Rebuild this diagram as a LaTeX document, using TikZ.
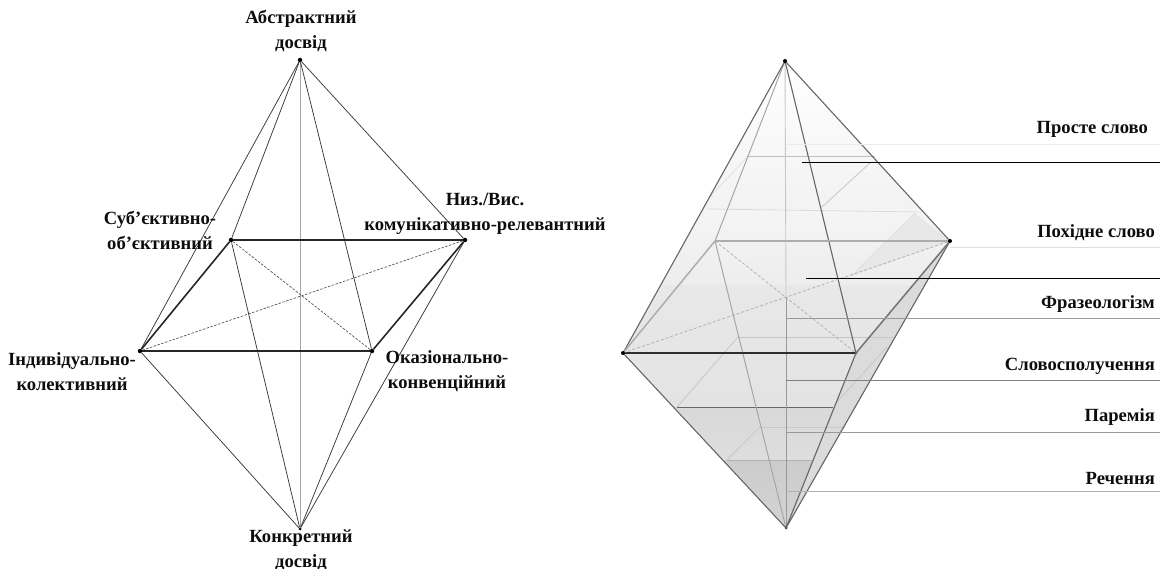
\documentclass[tikz,border=0pt]{standalone}
\usepackage{fontspec}
\setmainfont{Liberation Serif}
\tikzset{
  x=1pt,y=-1pt,
  lab/.style={font=\bfseries\fontsize{18.6}{25}\selectfont,align=center,text=black!95,inner sep=0pt},
  rlab/.style={lab,anchor=east},
  thin edge/.style={draw=black!78,line width=0.75pt},
  thick edge/.style={draw=black!85,line width=1.6pt},
  axis edge/.style={draw=black!35,line width=0.9pt},
  dash edge/.style={draw=black!75,line width=0.6pt,dash pattern=on 2.5pt off 1.5pt},
  vertex/.style={circle,fill=black,inner sep=0pt,minimum size=4.5pt},
  rdark/.style={draw=black!60,line width=1.1pt},
  rmid/.style={draw=black!35,line width=1pt},
  rbase/.style={draw=black!32,line width=1.5pt},
  rdash/.style={draw=black!30,line width=0.8pt,dash pattern=on 3pt off 2pt},
  section/.style={draw=black!22,line width=0.8pt},
  leader/.style={draw=black!40,line width=0.9pt},
  blackleader/.style={draw=black,line width=0.9pt},
}
\begin{document}
\begin{tikzpicture}
\useasboundingbox (0,0) rectangle (1174,569);
% ---------- left octahedron ----------
\node[vertex] (LT) at (300,60) {};
\node[vertex,minimum size=3pt] (LB) at (300,529) {};
\node[vertex] (LL) at (140,351) {};
\node[vertex] (LF) at (372,351) {};
\node[vertex] (LK) at (231,240) {};
\node[vertex] (LR) at (465,240) {};
\coordinate (LC) at (301,296);
\draw[axis edge] (LT) -- (LB);
\foreach \v in {LL,LK,LF,LR}{
  \draw[thin edge] (LT) -- (\v);
  \draw[thin edge] (LB) -- (\v);
}
\draw[thick edge] (LL) -- (LK);
\draw[thick edge] (LK) -- (LR);
\draw[thick edge] (LR) -- (LF);
\draw[thick edge] (LF) -- (LL);
\draw[dash edge] (LL) -- (LR);
\draw[dash edge] (LK) -- (LF);
% ---------- left labels ----------
\node[lab] (a1) at (301,31) {Абстрактний\\досвід};
\node[lab] (a2) at (160,230) {Суб’єктивно-\\об’єктивний};
\node[lab] (a3) at (485,214) {Низ./Вис.\\комунікативно-релевантний};
\node[lab] (a4) at (72,372) {Індивідуально-\\колективний};
\node[lab] (a5) at (447,371) {Оказіонально-\\конвенційний};
\node[lab] (a6) at (301,550) {Конкретний\\досвід};
% ---------- right octahedron ----------
\coordinate (RT) at (785,61);
\coordinate (RB) at (786,528);
\coordinate (RL) at (623,353);
\coordinate (RF) at (856,353);
\coordinate (RK) at (715,241);
\coordinate (RR) at (950,241);
\coordinate (RC) at (786,297);
\begin{scope}
  \clip (RT) -- (RR) -- (RB) -- (RL) -- cycle;
  \shade[top color=white,bottom color=black!5] (600,60) rectangle (960,210);
  \shade[top color=black!4,bottom color=black!7] (600,210) rectangle (960,285);
  \shade[top color=black!9,bottom color=black!11] (600,285) rectangle (960,407);
  \shade[top color=black!15,bottom color=black!13] (600,407) rectangle (960,460);
  \shade[top color=black!20,bottom color=black!17] (600,460) rectangle (960,530);
  \fill[black!9] (915,213) -- (950,241) -- (850,277) -- cycle;
  \fill[black!14] (950,241) -- (856,353) -- (786,528) -- cycle;
\end{scope}
% section planes
\draw[section,draw=black!25] (748,156) -- (875,156);
\draw[section,draw=black!12] (748,156) -- (710,197);
\draw[section] (870,163) -- (822,207);
\draw[section,draw=black!14] (708,209) -- (920,212);
\draw[section,draw=black!12] (915,213) -- (850,277);
\draw[section] (738,337) -- (893,337);
\draw[section] (738,337) -- (677,407);
\draw[section] (887,347) -- (837,402);
\draw[section,draw=black!60] (677,407) -- (833,407);
\draw[section] (760,427) -- (845,427);
\draw[section] (760,427) -- (727,460);
\draw[section,draw=black!30] (727,460) -- (812,460);
% axis
\draw[axis edge,draw=black!22] (RT) -- (RC);
\draw[axis edge,draw=black!40] (RC) -- (RB);
% edges
\draw[rmid] (RT) -- (RK);
\draw[rdark] (RT) -- (RF);
\draw[rdark] (RT) -- (RL);
\draw[rdark] (RT) -- (RR);
\draw[rmid] (RB) -- (RK);
\draw[rdark] (RB) -- (RL);
\draw[rdark] (RB) -- (RF);
\draw[rdark] (RB) -- (RR);
\draw[rbase] (RK) -- (RR);
\draw[rbase] (RK) -- (RL);
\draw[rbase,draw=black!55] (RR) -- (RF);
\draw[rbase,draw=black!82] (RL) -- (RF);
\draw[rdash] (RL) -- (RR);
\draw[rdash] (RK) -- (RF);
\node[vertex,minimum size=4pt] (RTd) at (RT) {};
\node[vertex,minimum size=4pt] (RRd) at (RR) {};
\node[vertex,minimum size=4pt] (RLd) at (RL) {};
\node[vertex,minimum size=3pt,fill=black!70] (RBd) at (RB) {};
\node[vertex,minimum size=3pt,fill=black!60] (RFd) at (RF) {};
% leaders
\coordinate (E1) at (1160,144);
\coordinate (E2) at (1160,247);
\coordinate (E3) at (1160,318);
\coordinate (E4) at (1160,380);
\coordinate (E5) at (1160,432);
\coordinate (E6) at (1160,491);
\coordinate (S1) at (786,144);
\coordinate (S2) at (950,247);
\coordinate (S3) at (786,318);
\coordinate (S4) at (786,380);
\coordinate (S5) at (786,432);
\coordinate (S6) at (786,491);
\coordinate (B1) at (802,162);
\coordinate (B2) at (1160,162);
\coordinate (B3) at (806,278);
\coordinate (B4) at (1160,278);
\draw[leader,draw=black!8] (S1) -- (E1);
\draw[leader,draw=black!12] (S2) -- (E2);
\draw[leader] (S3) -- (E3);
\draw[leader,draw=black!50] (S4) -- (E4);
\draw[leader] (S5) -- (E5);
\draw[leader,draw=black!30] (S6) -- (E6);
\draw[blackleader] (B1) -- (B2);
\draw[blackleader] (B3) -- (B4);
% right labels
\node[rlab] (b1) at (1148,129) {Просте слово};
\node[rlab] (b2) at (1155,233) {Похідне слово};
\node[rlab] (b3) at (1155,304) {Фразеологізм};
\node[rlab] (b4) at (1155,366) {Словосполучення};
\node[rlab] (b5) at (1155,417) {Паремія};
\node[rlab] (b6) at (1155,478) {Речення};
\end{tikzpicture}
\end{document}
